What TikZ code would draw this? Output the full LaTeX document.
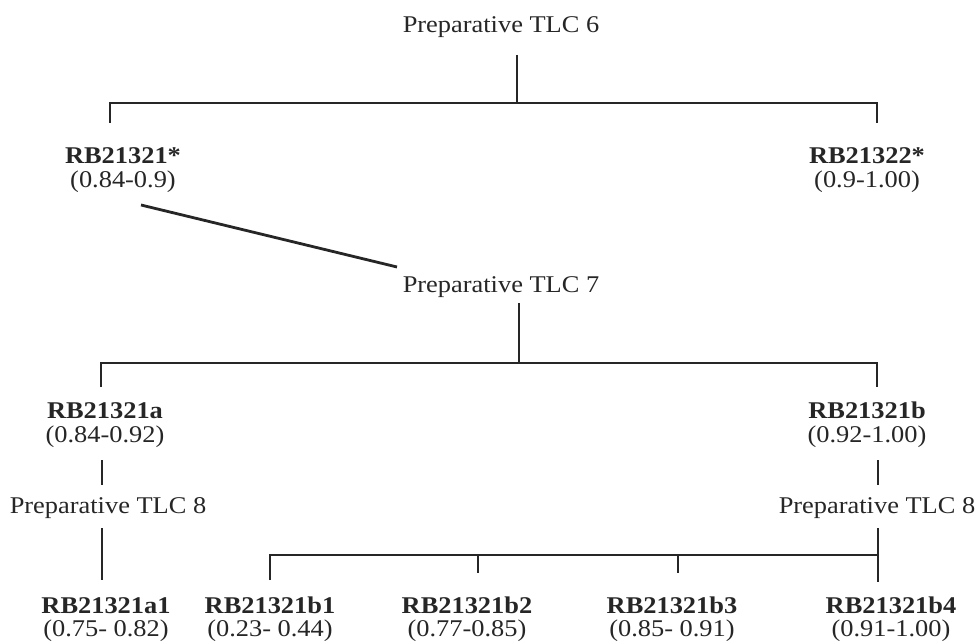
\documentclass[tikz,border=0pt]{standalone}
\usepackage{fontspec}
\setmainfont{Liberation Serif}[FakeStretch=1.1]
\usetikzlibrary{positioning}

\begin{document}
\begin{tikzpicture}[x=1pt, y=-1pt,
    every node/.style={font=\fontsize{24}{24}\selectfont, inner sep=0pt, align=center, text=black!85},
    link/.style={line width=2.8pt, black!85}]
  \useasboundingbox (0,0) rectangle (980,644);

  % plates
  \node[anchor=base] (tlc6) at (501,33) {Preparative TLC 6};
  \node[anchor=base] (tlc7) at (501,293) {Preparative TLC 7};
  \node[anchor=base] (tlc8a) at (108,513) {Preparative TLC 8};
  \node[anchor=base] (tlc8b) at (877,513) {Preparative TLC 8};

  % fractions
  \node[anchor=north] (rb1) at (123,147) {\textbf{RB21321*}\\(0.84-0.9)};
  \node[anchor=north] (rb2) at (867,147) {\textbf{RB21322*}\\(0.9-1.00)};
  \node[anchor=north] (rba) at (105,402) {\textbf{RB21321a}\\(0.84-0.92)};
  \node[anchor=north] (rbb) at (867,402) {\textbf{RB21321b}\\(0.92-1.00)};
  \node[anchor=north] (rba1) at (106,597) {\textbf{RB21321a1}\\[-1pt](0.75- 0.82)};
  \node[anchor=north] (rbb1) at (270,597) {\textbf{RB21321b1}\\[-1pt](0.23- 0.44)};
  \node[anchor=north] (rbb2) at (467,597) {\textbf{RB21321b2}\\[-1pt](0.77-0.85)};
  \node[anchor=north] (rbb3) at (672,597) {\textbf{RB21321b3}\\[-1pt](0.85- 0.91)};
  \node[anchor=north] (rbb4) at (891,597) {\textbf{RB21321b4}\\[-1pt](0.91-1.00)};

  % TLC 6
  \coordinate (t6) at (517,55);
  \coordinate (j6) at (517,103);
  \draw[link] (t6) -- (j6);
  \draw[link] (110,123) -- (110,103) -- (877,103) -- (877,123);

  % TLC 7
  \draw[link] (141,205) -- (397,267);
  \coordinate (t7) at (519,303);
  \coordinate (j7) at (519,363);
  \draw[link] (t7) -- (j7);
  \draw[link] (101,387) -- (101,363) -- (877,363) -- (877,387);

  % TLC 8, left
  \draw[link] (102,460) -- (102,485);
  \draw[link] (102,528) -- (102,580);

  % TLC 8, right
  \draw[link] (878,460) -- (878,485);
  \draw[link] (878,528) -- (878,582);
  \draw[link] (270,580) -- (270,555) -- (878,555);
  \foreach \x in {478,678}
    \draw[link] (\x,555) -- (\x,573);
\end{tikzpicture}
\end{document}
